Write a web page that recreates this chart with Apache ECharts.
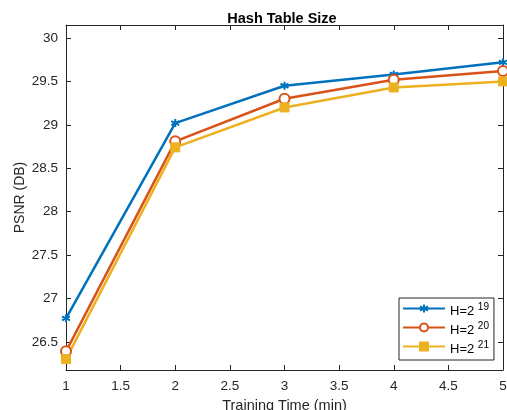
<!DOCTYPE html>
<html>
<head>
<meta charset="utf-8">
<script src="https://cdn.jsdelivr.net/npm/echarts@6/dist/echarts.min.js"></script>
<style>
  html, body { margin: 0; padding: 0; background: #fff; }
  #chart { width: 507px; height: 410px; }
</style>
</head>
<body>
<div id="chart"></div>
<script>
var trainingTime = [1, 2, 3, 4, 5];
var h19 = [26.77, 29.02, 29.45, 29.58, 29.72];
var h20 = [26.39, 28.81, 29.30, 29.52, 29.62];
var h21 = [26.30, 28.74, 29.20, 29.43, 29.50];
var yTicks = [26.5, 27, 27.5, 28, 28.5, 29, 29.5, 30];
var seriesNames = ['H=2 19', 'H=2 20', 'H=2 21'];

var dom = document.getElementById('chart');
var myChart = echarts.init(dom);

var axisColor = '#262626';
var fontFam = '"Liberation Sans", Arial, sans-serif';

function pairs(vals) {
    return trainingTime.map(function (t, i) { return [t, vals[i]]; });
}

var asterisk = 'path://M5,0L5,10M0.7,2.5L9.3,7.5M0.7,7.5L9.3,2.5';

var option = {
    animation: false,
    backgroundColor: '#fff',
    title: {
        text: 'Hash Table Size',
        left: 277,
        textAlign: 'center',
        top: 6,
        textStyle: { fontFamily: fontFam, fontSize: 14.5, fontWeight: 'bold', color: '#000' }
    },
    grid: { left: 66, right: 4, top: 25, bottom: 40, outerBoundsMode: 'none' },
    legend: {
        orient: 'vertical',
        left: 399,
        top: 298,
        padding: [4, 5, 4, 3],
        itemWidth: 42,
        itemHeight: 10,
        itemGap: 3,
        borderColor: '#262626',
        borderWidth: 1,
        backgroundColor: '#fff',
        data: seriesNames,
        formatter: function (name) {
            var parts = name.split(' ');
            return parts[0] + ' {sup|' + parts[1] + '}';
        },
        textStyle: {
            fontFamily: fontFam,
            fontSize: 13,
            color: '#000',
            padding: [6, 0, 0, 0],
            rich: {
                sup: { fontFamily: fontFam, fontSize: 10, color: '#000', padding: [0, 0, 9, 0] }
            }
        }
    },
    xAxis: [{
        type: 'value',
        min: 1,
        max: 5,
        interval: 0.5,
        name: 'Training Time (min)',
        nameLocation: 'middle',
        nameGap: 28,
        nameMoveOverlap: false,
        nameTextStyle: { fontFamily: fontFam, fontSize: 14.5, color: axisColor },
        axisLine: { lineStyle: { color: axisColor, width: 1 } },
        axisTick: { inside: true, length: 5, lineStyle: { color: axisColor } },
        axisLabel: { fontFamily: fontFam, fontSize: 13.5, color: axisColor, margin: 9,
            showMinLabel: true, showMaxLabel: true },
        splitLine: { show: false }
    }, {
        type: 'value',
        position: 'top',
        min: 1,
        max: 5,
        interval: 0.5,
        axisLine: { show: true, lineStyle: { color: axisColor, width: 1 } },
        axisTick: { show: true, inside: true, length: 5, lineStyle: { color: axisColor } },
        axisLabel: { show: false },
        splitLine: { show: false }
    }],
    yAxis: [{
        type: 'value',
        min: 26.175,
        max: 30.15,
        name: 'PSNR (DB)',
        nameLocation: 'middle',
        nameGap: 39,
        nameMoveOverlap: false,
        nameTextStyle: { fontFamily: fontFam, fontSize: 14, color: axisColor },
        axisLine: { show: true, lineStyle: { color: axisColor, width: 1 } },
        axisTick: { show: true, inside: true, length: 5, customValues: yTicks, lineStyle: { color: axisColor } },
        axisLabel: { fontFamily: fontFam, fontSize: 13.5, color: axisColor, margin: 8, customValues: yTicks },
        splitLine: { show: false }
    }, {
        type: 'value',
        position: 'right',
        min: 26.175,
        max: 30.15,
        axisLine: { show: true, lineStyle: { color: axisColor, width: 1 } },
        axisTick: { show: true, inside: true, length: 5, customValues: yTicks, lineStyle: { color: axisColor } },
        axisLabel: { show: false, customValues: yTicks },
        splitLine: { show: false }
    }],
    series: [{
        name: seriesNames[0],
        type: 'line',
        data: pairs(h19),
        symbol: asterisk,
        symbolSize: 8,
        lineStyle: { color: '#0072BD', width: 2.5 },
        itemStyle: { color: '#0072BD', borderColor: '#0072BD', borderWidth: 2 }
    }, {
        name: seriesNames[1],
        type: 'line',
        data: pairs(h20),
        symbol: 'emptyCircle',
        symbolSize: 10,
        lineStyle: { color: '#D95319', width: 2.5 },
        itemStyle: { color: '#D95319', borderColor: '#D95319', borderWidth: 2 }
    }, {
        name: seriesNames[2],
        type: 'line',
        data: pairs(h21),
        symbol: 'rect',
        symbolSize: 9,
        lineStyle: { color: '#EDB120', width: 2.5 },
        itemStyle: { color: '#EDB120', borderColor: '#EDB120', borderWidth: 1 }
    }]
};

if (option && typeof option === 'object') {
    myChart.setOption(option, true);
}
</script>
</body>
</html>
